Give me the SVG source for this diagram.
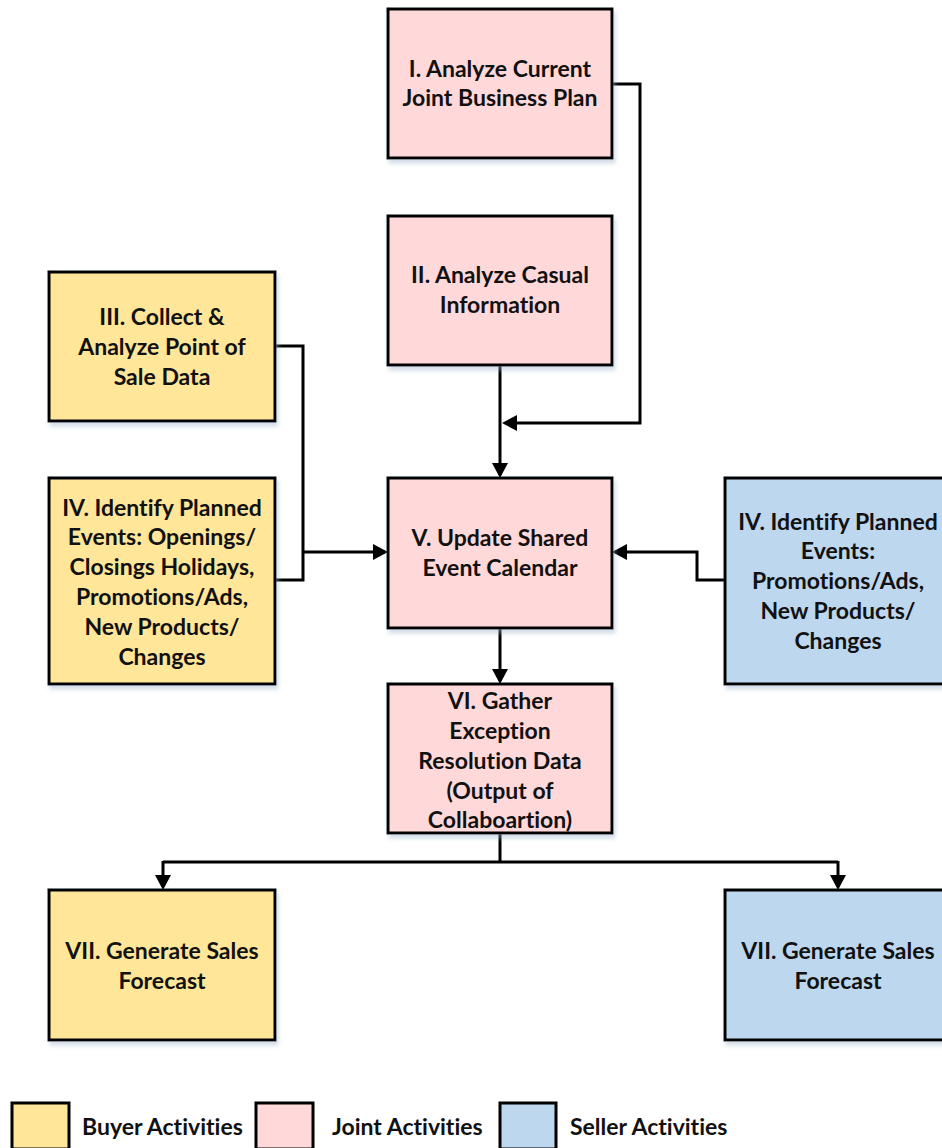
<svg xmlns="http://www.w3.org/2000/svg" width="942" height="1148" viewBox="0 0 942 1148">
  <style>
    .box { stroke: #000; stroke-width: 3; filter: url(#shadow); }
    .buyer { fill: #FFE699; }
    .joint { fill: #FFD9D9; }
    .seller { fill: #BDD7EE; }
    .key { stroke: #000; stroke-width: 3; }
    text { font-family: "Lato", "Open Sans", "Liberation Sans", sans-serif; font-weight: bold; font-size: 23px; fill: #111; text-anchor: middle; font-variant-ligatures: none; }
    .legend { text-anchor: start; }
    .conn path { fill: none; stroke: #000; stroke-width: 3; }
    .conn .arrow { marker-end: url(#head); }
  </style>
  <defs>
    <filter id="shadow" x="-10%" y="-10%" width="125%" height="125%">
      <feDropShadow dx="2" dy="4" stdDeviation="2" flood-color="#9db4cc" flood-opacity="0.45"/>
    </filter>
    <marker id="head" markerUnits="userSpaceOnUse" viewBox="0 0 15 16" markerWidth="15" markerHeight="16" refX="12" refY="8" orient="auto">
      <path d="M0,0 L15,8 L0,16 z" fill="#000"/>
    </marker>
  </defs>

  <!-- connectors -->
  <g id="connectors" class="conn">
    <path class="arrow" d="M612,84 H640 V423 H505"/>
    <path class="arrow" d="M500,365 V475"/>
    <path d="M275,346 H303 V580 H275"/>
    <path class="arrow" d="M303,552 H385"/>
    <path class="arrow" d="M725,580 H697 V552 H615"/>
    <path class="arrow" d="M500,628 V681"/>
    <path d="M500,833 V862 M163,862 H838"/>
    <path class="arrow" d="M163,861 V887"/>
    <path class="arrow" d="M838,861 V887"/>
  </g>

  <g id="n1">
    <rect class="box joint" x="388" y="9" width="224" height="149"/>
    <text x="500" y="77">I. Analyze Current</text>
    <text x="500" y="106">Joint Business Plan</text>
  </g>

  <g id="n2">
    <rect class="box joint" x="388" y="216" width="224" height="149"/>
    <text x="500" y="283">II. Analyze Casual</text>
    <text x="500" y="313">Information</text>
  </g>

  <g id="n3">
    <rect class="box buyer" x="49" y="272" width="226" height="149"/>
    <text x="162" y="325">III. Collect &amp;</text>
    <text x="162" y="355">Analyze Point of</text>
    <text x="162" y="385">Sale Data</text>
  </g>

  <g id="n4-buyer">
    <rect class="box buyer" x="49" y="478" width="226" height="206"/>
    <text x="162" y="516">IV. Identify Planned</text>
    <text x="162" y="545">Events: Openings/</text>
    <text x="162" y="575">Closings Holidays,</text>
    <text x="162" y="605">Promotions/Ads,</text>
    <text x="162" y="635">New Products/</text>
    <text x="162" y="665">Changes</text>
  </g>

  <g id="n5">
    <rect class="box joint" x="388" y="478" width="224" height="150"/>
    <text x="500" y="546">V. Update Shared</text>
    <text x="500" y="576">Event Calendar</text>
  </g>

  <g id="n4-seller">
    <rect class="box seller" x="725" y="478" width="226" height="206"/>
    <text x="838" y="530">IV. Identify Planned</text>
    <text x="838" y="559">Events:</text>
    <text x="838" y="589">Promotions/Ads,</text>
    <text x="838" y="619">New Products/</text>
    <text x="838" y="649">Changes</text>
  </g>

  <g id="n6">
    <rect class="box joint" x="388" y="684" width="224" height="149"/>
    <text x="500" y="709">VI. Gather</text>
    <text x="500" y="739">Exception</text>
    <text x="500" y="769">Resolution Data</text>
    <text x="500" y="799">(Output of</text>
    <text x="500" y="828">Collaboartion)</text>
  </g>

  <g id="n7-buyer">
    <rect class="box buyer" x="49" y="890" width="226" height="150"/>
    <text x="162" y="959">VII. Generate Sales</text>
    <text x="162" y="989">Forecast</text>
  </g>

  <g id="n7-seller">
    <rect class="box seller" x="725" y="890" width="226" height="150"/>
    <text x="838" y="959">VII. Generate Sales</text>
    <text x="838" y="989">Forecast</text>
  </g>

  <!-- legend -->
  <g id="legend">
    <rect class="key buyer" x="12" y="1103" width="57" height="46"/>
    <text class="legend" x="82" y="1135">Buyer Activities</text>
    <rect class="key joint" x="256" y="1103" width="57" height="46"/>
    <text class="legend" x="332" y="1135">Joint Activities</text>
    <rect class="key seller" x="500" y="1103" width="56" height="46"/>
    <text class="legend" x="570" y="1135">Seller Activities</text>
  </g>
</svg>
